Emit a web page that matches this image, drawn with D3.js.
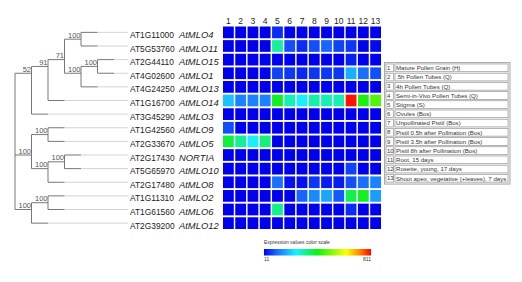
<!DOCTYPE html>
<html>
<head>
<meta charset="utf-8">
<script src="https://cdn.jsdelivr.net/npm/d3@7"></script>
<style>
body { margin: 0; background: #fff; }
svg { display: block; font-family: "Liberation Sans", Arial, sans-serif; }
</style>
</head>
<body>
<svg id="chart" width="522" height="282"></svg>
<script>
// Tissues (columns), numbered 1..13
var tissues = [
    "Mature Pollen Grain (H)",
    ".5h Pollen Tubes (Q)",
    "4h Pollen Tubes (Q)",
    "Semi-in-Vivo Pollen Tubes (Q)",
    "Stigma (S)",
    "Ovules (Bos)",
    "Unpollinated Pistil (Bos)",
    "Pistil 0.5h after Pollination (Bos)",
    "Pistil 3.5h after Pollination (Bos)",
    "Pistil 8h after Pollination (Bos)",
    "Root, 15 days",
    "Rosette, young, 17 days",
    "Shoot apex, vegetative (+leaves), 7 days"
];

// Genes (rows), in tree order
var geneIds = ["AT1G11000", "AT5G53760", "AT2G44110", "AT4G02600", "AT4G24250", "AT1G16700", "AT3G45290",
    "AT1G42560", "AT2G33670", "AT2G17430", "AT5G65970", "AT2G17480", "AT1G11310", "AT1G61560", "AT2G39200"];
var geneNames = ["AtMLO4", "AtMLO11", "AtMLO15", "AtMLO1", "AtMLO13", "AtMLO14", "AtMLO3",
    "AtMLO9", "AtMLO5", "NORTIA", "AtMLO10", "AtMLO8", "AtMLO2", "AtMLO6", "AtMLO12"];

// Expression values, one row per gene, one value per tissue
var expression = [
    [11, 11, 11, 11, 50, 11, 11, 11, 11, 11, 11, 11, 11],
    [11, 11, 11, 11, 315, 80, 50, 80, 100, 70, 60, 15, 20],
    [11, 11, 11, 15, 11, 11, 11, 11, 11, 11, 40, 11, 11],
    [11, 11, 11, 15, 70, 60, 45, 60, 60, 60, 180, 110, 80],
    [11, 11, 11, 11, 11, 11, 11, 11, 11, 11, 11, 11, 11],
    [200, 130, 130, 130, 400, 300, 250, 310, 300, 300, 800, 420, 470],
    [11, 11, 11, 11, 11, 11, 11, 11, 11, 11, 11, 11, 11],
    [80, 11, 11, 11, 11, 11, 11, 11, 11, 11, 11, 11, 11],
    [380, 320, 250, 340, 11, 11, 11, 11, 11, 11, 11, 11, 11],
    [11, 11, 11, 11, 11, 11, 11, 11, 11, 11, 11, 11, 11],
    [11, 11, 11, 11, 11, 11, 11, 11, 11, 11, 70, 11, 11],
    [11, 11, 11, 11, 110, 25, 25, 60, 35, 35, 80, 110, 130],
    [11, 11, 11, 11, 11, 11, 100, 140, 170, 90, 370, 400, 160],
    [11, 11, 11, 11, 330, 11, 11, 11, 11, 11, 50, 11, 11],
    [11, 11, 11, 11, 11, 11, 11, 11, 11, 11, 11, 11, 11]
];

// Color scale range
var scaleMin = 11, scaleMax = 811;
var colorStops = [0, 0.12, 0.3, 0.5, 0.77, 0.9, 1];
var colorValues = ["#0000ee", "#1a6cff", "#18f0ff", "#10f010", "#ffff00", "#ff8000", "#ff0000"];

// Cladogram with bootstrap values
var tree = { b: null, c: [
    { b: "52", c: [
        { b: "91", c: [
            { b: "71", c: [
                { b: "100", c: ["AtMLO4", "AtMLO11"] },
                { b: "100", c: [{ b: "100", c: ["AtMLO15", "AtMLO1"] }, "AtMLO13"] }
            ] },
            "AtMLO14"
        ] },
        "AtMLO3"
    ] },
    { b: "100", c: [
        { b: "100", c: ["AtMLO9", "AtMLO5"] },
        { b: "100", c: [{ b: "100", c: ["NORTIA", "AtMLO10"] }, "AtMLO8"] }
    ] },
    { b: "100", c: [{ b: "100", c: ["AtMLO2", "AtMLO6"] }, "AtMLO12"] }
] };

var svg = d3.select("#chart");

// Scales
var x = d3.scaleBand().domain(d3.range(tissues.length)).range([223, 381]).paddingInner(0.12);
var y = d3.scaleBand().domain(geneNames).range([26.5, 229]).paddingInner(0.14);
var color = d3.scaleLinear()
    .domain(colorStops.map(function (t) { return scaleMin + t * (scaleMax - scaleMin); }))
    .range(colorValues)
    .clamp(true);

// Column numbers
svg.append("g").selectAll("text").data(tissues).enter().append("text")
    .attr("x", function (d, i) { return x(i) + x.bandwidth() / 2; })
    .attr("y", 24)
    .attr("text-anchor", "middle")
    .style("font-size", "8.5px")
    .style("fill", "#222")
    .text(function (d, i) { return i + 1; });

// Heatmap cells
var rows = svg.append("g").selectAll("g").data(expression).enter().append("g")
    .attr("transform", function (d, i) { return "translate(0," + y(geneNames[i]) + ")"; });
rows.selectAll("rect").data(function (d) { return d; }).enter().append("rect")
    .attr("x", function (d, i) { return x(i); })
    .attr("width", x.bandwidth())
    .attr("height", y.bandwidth())
    .style("fill", function (d) { return color(d); });

// Gene labels
var labels = svg.append("g").selectAll("text").data(geneNames).enter().append("text")
    .attr("y", function (d) { return y(d) + y.bandwidth() / 2; })
    .attr("dy", ".35em")
    .style("fill", "#222");
labels.append("tspan").attr("x", 130).style("font-size", "8.4px")
    .text(function (d, i) { return geneIds[i]; });
labels.append("tspan").attr("x", 179).style("font-size", "9.4px").style("font-style", "italic")
    .text(function (d) { return d; });

// Tree
var root = d3.hierarchy(tree, function (d) { return typeof d === "string" ? null : d.c; });
var step = 16.5, x0 = 15, leafEnd = 128;
root.each(function (n) { n.px = x0 + n.depth * step; });
root.eachAfter(function (n) {
    n.py = n.children ? d3.mean(n.leaves(), function (l) { return y(l.data) + y.bandwidth() / 2; })
                      : y(n.data) + y.bandwidth() / 2;
});

var treeG = svg.append("g").style("fill", "none");
// leaf extensions
treeG.selectAll("line.ext").data(root.leaves()).enter().append("line")
    .attr("x1", function (n) { return n.px; }).attr("x2", leafEnd)
    .attr("y1", function (n) { return n.py; }).attr("y2", function (n) { return n.py; })
    .style("stroke", "#d4d4d4").style("stroke-width", 1);
// horizontal branches
treeG.selectAll("line.h").data(root.descendants().filter(function (n) { return n.parent; })).enter().append("line")
    .attr("x1", function (n) { return n.parent.px; }).attr("x2", function (n) { return n.px; })
    .attr("y1", function (n) { return n.py; }).attr("y2", function (n) { return n.py; })
    .style("stroke", "#777").style("stroke-width", 1);
// vertical connectors
treeG.selectAll("line.v").data(root.descendants().filter(function (n) { return n.children; })).enter().append("line")
    .attr("x1", function (n) { return n.px; }).attr("x2", function (n) { return n.px; })
    .attr("y1", function (n) { return d3.min(n.children, function (c) { return c.py; }); })
    .attr("y2", function (n) { return d3.max(n.children, function (c) { return c.py; }); })
    .style("stroke", "#777").style("stroke-width", 1);
// bootstrap values
svg.append("g").selectAll("text").data(root.descendants().filter(function (n) { return n.children && n.data.b; })).enter().append("text")
    .attr("x", function (n) { return n.px - 0.5; })
    .attr("y", function (n) { return n.py - 1.5; })
    .attr("text-anchor", "end")
    .style("font-size", "7.5px")
    .style("fill", "#555")
    .text(function (n) { return n.data.b; });

// Tissue table
var tableX = 384.5, tableY = 62.5, rowH = 9.2;
var table = svg.append("g");
table.append("rect").attr("x", tableX).attr("y", tableY)
    .attr("width", 125.5).attr("height", rowH * tissues.length + 2)
    .style("fill", "#eeeeee").style("stroke", "#9a9a9a").style("stroke-width", 0.8);
var trow = table.selectAll("g").data(tissues).enter().append("g")
    .attr("transform", function (d, i) { return "translate(0," + (tableY + 1.5 + i * rowH) + ")"; });
trow.append("rect").attr("x", tableX + 1.5).attr("width", 7.5).attr("height", rowH - 1.5)
    .style("fill", "#fff").style("stroke", "#8a8a8a").style("stroke-width", 0.6);
trow.append("rect").attr("x", tableX + 10.5).attr("width", 113).attr("height", rowH - 1.5)
    .style("fill", "#fff").style("stroke", "#8a8a8a").style("stroke-width", 0.6);
trow.append("text").text(function (d, i) { return i + 1; })
    .attr("x", tableX + 2.5).attr("y", rowH / 2 - 0.6).attr("dy", ".35em")
    .style("font-size", "6px").style("fill", "#333");
trow.append("text").text(function (d) { return d; })
    .attr("x", tableX + 11.5).attr("y", rowH / 2 - 0.6).attr("dy", ".35em")
    .style("font-size", "6.1px").style("fill", "#333");

// Color scale legend
var defs = svg.append("defs");
var grad = defs.append("linearGradient").attr("id", "jet");
grad.selectAll("stop").data(colorStops).enter().append("stop")
    .attr("offset", function (d) { return (d * 100) + "%"; })
    .attr("stop-color", function (d, i) { return colorValues[i]; });
var legend = svg.append("g");
legend.append("text").text("Expression values color scale")
    .attr("x", 264).attr("y", 244).style("font-size", "5px").style("fill", "#333");
legend.append("rect").attr("x", 264).attr("y", 249).attr("width", 107).attr("height", 6.5)
    .style("fill", "url(#jet)");
legend.append("text").text(scaleMin).attr("x", 264).attr("y", 261)
    .style("font-size", "5px").style("fill", "#333");
legend.append("text").text(scaleMax).attr("x", 371).attr("y", 261).attr("text-anchor", "end")
    .style("font-size", "5px").style("fill", "#333");
</script>
</body>
</html>
